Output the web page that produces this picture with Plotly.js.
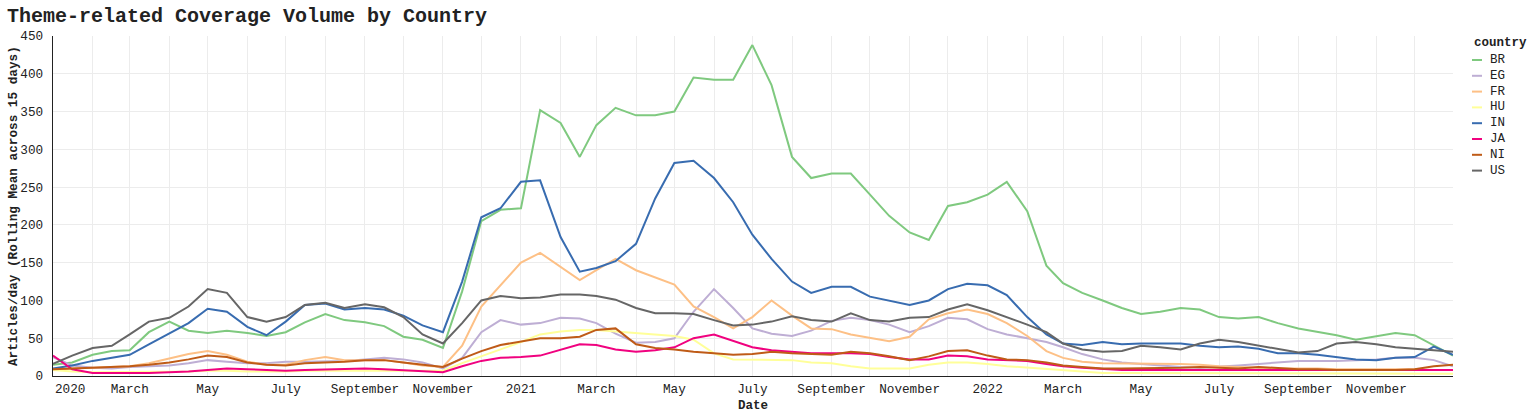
<!DOCTYPE html>
<html>
<head>
<meta charset="utf-8">
<script src="https://cdn.plot.ly/plotly-3.0.1.min.js"></script>
<style>
html,body{margin:0;padding:0;background:#fff;}
#chart{width:1530px;height:417px;}
</style>
</head>
<body>
<div id="chart"></div>
<script>
// ---- data ----
const dates = [
 "2020-01-01","2020-01-16","2020-02-01","2020-02-16","2020-03-01","2020-03-16","2020-04-01","2020-04-16","2020-05-01","2020-05-16","2020-06-01","2020-06-16",
 "2020-07-01","2020-07-16","2020-08-01","2020-08-16","2020-09-01","2020-09-16","2020-10-01","2020-10-16","2020-11-01","2020-11-16","2020-12-01","2020-12-16",
 "2021-01-01","2021-01-16","2021-02-01","2021-02-16","2021-03-01","2021-03-16","2021-04-01","2021-04-16","2021-05-01","2021-05-16","2021-06-01","2021-06-16",
 "2021-07-01","2021-07-16","2021-08-01","2021-08-16","2021-09-01","2021-09-16","2021-10-01","2021-10-16","2021-11-01","2021-11-16","2021-12-01","2021-12-16",
 "2022-01-01","2022-01-16","2022-02-01","2022-02-16","2022-03-01","2022-03-16","2022-04-01","2022-04-16","2022-05-01","2022-05-16","2022-06-01","2022-06-16",
 "2022-07-01","2022-07-16","2022-08-01","2022-08-16","2022-09-01","2022-09-16","2022-10-01","2022-10-16","2022-11-01","2022-11-16","2022-12-01","2022-12-16",
 "2022-12-31"
];

const BR = [15,18,28,33,34,58,72,60,57,60,57,53, 58,71,82,74,71,66,52,48,37,112,205,220,
            222,352,335,290,332,355,345,345,350,395,392,392, 438,385,290,262,268,268,240,212,190,180,225,230,
            240,257,218,146,123,110,100,90,82,85,90,88, 78,76,78,70,63,59,54,48,53,57,54,40, 27];
const EG = [25,14,11,10,12,13,14,17,21,19,17,17, 19,19,19,20,22,24,22,18,10,24,58,74,
            68,70,77,76,70,56,44,45,50,85,115,90, 63,56,53,60,73,77,74,68,58,66,77,75,
            62,55,50,45,38,29,22,18,16,14,12,11, 13,14,16,18,20,20,20,21,22,24,24,21, 13];
const FR = [8,10,11,12,13,17,23,29,33,28,19,15, 15,21,25,21,21,21,18,14,12,40,92,120,
            150,163,145,127,140,155,140,130,121,92,78,63, 78,100,80,63,62,55,50,46,52,75,83,88,
            82,70,53,33,24,19,17,17,17,17,16,15, 13,12,11,10,10,10,9,9,9,9,9,8, 8];
const HU = [8,6,5,5,5,5,5,6,7,7,6,6, 6,7,7,7,8,8,8,7,7,17,26,35,
            45,55,59,61,61,59,57,55,53,48,30,22, 22,22,21,18,17,13,10,10,10,15,18,18,
            16,13,11,9,7,5,4,4,4,4,4,4, 4,4,4,4,4,4,3,3,3,3,3,3, 3];
const IN = [10,14,20,24,28,42,57,70,89,85,65,54, 72,94,96,88,90,88,80,67,58,125,210,222,
            257,259,184,138,143,152,175,235,282,285,262,230, 187,155,125,110,118,118,105,100,94,100,115,122,
            120,107,78,55,43,41,45,42,43,43,43,40, 38,39,36,30,30,28,25,22,21,24,25,39, 28];
const JA = [27,9,4,4,4,4,5,6,8,10,9,8, 7,8,9,9,10,9,8,7,5,13,20,24,
            25,27,35,42,41,35,32,34,38,50,55,46, 38,34,32,30,30,30,29,25,22,22,27,26,
            22,21,20,16,13,11,9,8,8,8,8,8, 8,8,8,8,8,8,8,8,8,8,8,7, 8];
const NI = [9,10,11,12,13,15,18,22,27,25,18,15, 14,17,18,19,21,21,18,15,12,23,33,41,
            46,50,50,52,61,63,42,37,35,32,30,28, 29,32,30,29,28,32,30,26,21,26,33,34,
            27,22,21,18,14,12,10,10,10,10,11,12, 11,10,12,11,9,9,8,8,8,8,9,13, 15];
const US = [16,27,37,40,55,72,77,92,115,110,78,72, 78,94,97,90,95,91,78,55,43,70,100,106,
            103,104,108,108,106,101,90,83,83,82,74,67, 68,72,79,74,72,83,74,72,77,78,88,95,
            87,78,68,58,43,35,32,33,40,38,35,43, 48,45,40,36,31,33,43,45,42,38,36,34, 32];

const countries = ["BR","EG","FR","HU","IN","JA","NI","US"];
const seriesValues = [BR, EG, FR, HU, IN, JA, NI, US];
const colors = ["#7fc97f","#beaed4","#fdc086","#ffff99","#386cb0","#f0027f","#bf5b17","#666666"];

const tickDates = [
 "2020-01-01","2020-02-01","2020-03-01","2020-04-01","2020-05-01","2020-06-01","2020-07-01","2020-08-01","2020-09-01","2020-10-01","2020-11-01","2020-12-01",
 "2021-01-01","2021-02-01","2021-03-01","2021-04-01","2021-05-01","2021-06-01","2021-07-01","2021-08-01","2021-09-01","2021-10-01","2021-11-01","2021-12-01",
 "2022-01-01","2022-02-01","2022-03-01","2022-04-01","2022-05-01","2022-06-01","2022-07-01","2022-08-01","2022-09-01","2022-10-01","2022-11-01","2022-12-01"
];
const tickLabels = [
 "","","March","","May","","July","","September","","November","",
 "2021","","March","","May","","July","","September","","November","",
 "2022","","March","","May","","July","","September","","November",""
];
const firstTickLabel = "2020";
const yTicks = [0,50,100,150,200,250,300,350,400,450];

const titleText = "Theme-related Coverage Volume by Country";
const xTitle = "Date";
const yTitle = "Articles/day (Rolling Mean across 15 days)";
const legendTitle = "country";

// ---- chart ----
const FONT = "Liberation Mono, Courier New, monospace";
const TXT = "#222";

const traces = countries.map((c, i) => ({
  type: "scatter", mode: "lines", name: c,
  x: dates, y: seriesValues[i],
  line: {color: colors[i], width: 2},
  showlegend: false
}));

// manual legend (compact, like the reference)
const legX0 = (1472 - 53) / 1400, legX1 = (1482 - 53) / 1400, legTX = (1488 - 53) / 1400;
const legY = i => (376 - (60 + 15.8 * i)) / 340;
const shapes = countries.map((c, i) => ({
  type: "line", xref: "paper", yref: "paper",
  x0: legX0, x1: legX1, y0: legY(i), y1: legY(i),
  line: {color: colors[i], width: 2}
}));
const annotations = countries.map((c, i) => ({
  xref: "paper", yref: "paper", x: legTX, y: legY(i),
  xanchor: "left", yanchor: "middle", showarrow: false,
  text: c, font: {family: FONT, size: 12.5, color: TXT}
}));
annotations.push({
  xref: "paper", yref: "paper", x: legX0, y: (376 - 42.7) / 340,
  xanchor: "left", yanchor: "middle", showarrow: false,
  text: "<b>" + legendTitle + "</b>", font: {family: FONT, size: 12.5, color: TXT}
});
annotations.push({
  xref: "x", yref: "paper", x: tickDates[0], y: -(389 - 376) / 340,
  xanchor: "left", yanchor: "middle", showarrow: false,
  text: firstTickLabel, font: {family: FONT, size: 12.7, color: TXT}
});
// y-axis title placed like the reference
annotations.push({
  xref: "paper", yref: "paper", x: (13 - 53) / 1400, y: 0.5,
  xanchor: "center", yanchor: "middle", textangle: -90, showarrow: false,
  text: "<b>" + yTitle + "</b>", font: {family: FONT, size: 12.7, color: TXT}
});

const layout = {
  width: 1530, height: 417,
  margin: {l: 53, r: 77, t: 36, b: 41, pad: 0},
  paper_bgcolor: "#fff", plot_bgcolor: "#fff",
  font: {family: FONT, size: 12.7, color: TXT},
  title: {
    text: "<b>" + titleText + "</b>",
    font: {family: FONT, size: 20, color: TXT},
    x: 7 / 1530, xanchor: "left", xref: "container",
    y: 1 - 15 / 417, yanchor: "middle", yref: "container"
  },
  xaxis: {
    type: "date",
    range: ["2020-01-01", "2022-12-31"],
    tickmode: "array", tickvals: tickDates, ticktext: tickLabels,
    ticks: "", showline: true, linecolor: "#222", linewidth: 1.3,
    showgrid: true, gridcolor: "#ececec", gridwidth: 1,
    zeroline: false,
    tickfont: {family: FONT, size: 12.7, color: TXT},
    ticklabelstandoff: 0,
    title: {text: "<b>" + xTitle + "</b>", font: {family: FONT, size: 12.5, color: TXT}, standoff: 4},
    automargin: false
  },
  yaxis: {
    range: [0, 450],
    tickmode: "array", tickvals: yTicks,
    ticks: "", showline: true, linecolor: "#222", linewidth: 1.3,
    showgrid: true, gridcolor: "#ececec", gridwidth: 1,
    zeroline: false,
    tickfont: {family: FONT, size: 12.7, color: TXT},
    ticklabelstandoff: 6,
    automargin: false
  },
  shapes: shapes,
  annotations: annotations,
  showlegend: false
};

Plotly.newPlot("chart", traces, layout, {staticPlot: true, displayModeBar: false});
</script>
</body>
</html>
